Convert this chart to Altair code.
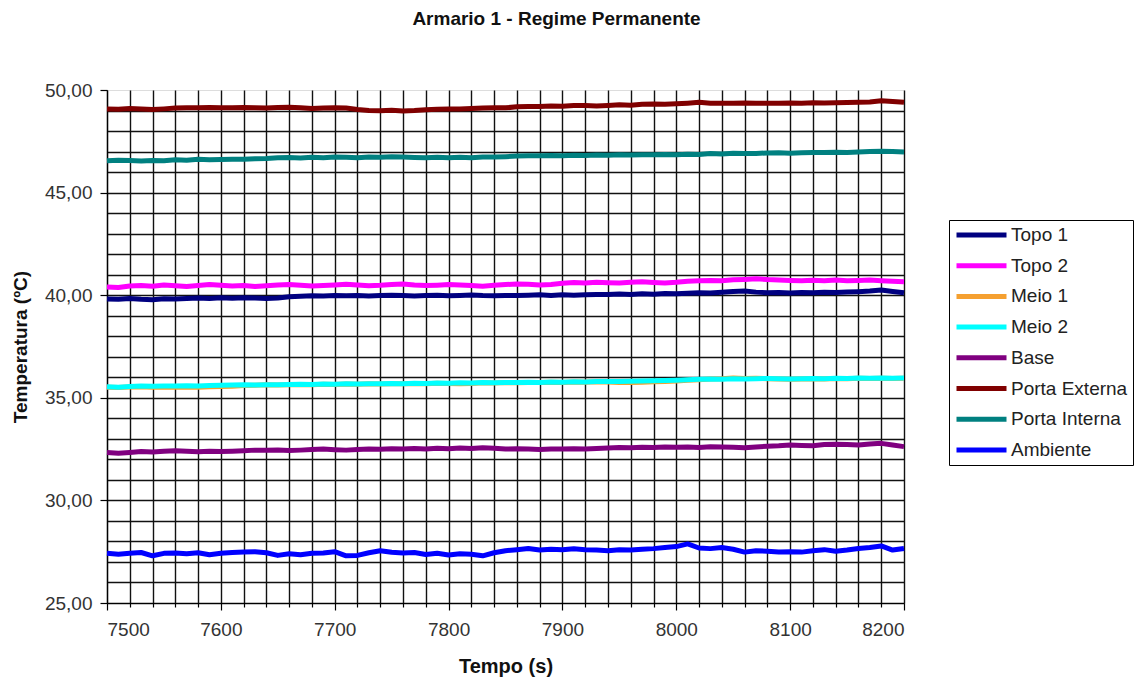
import altair as alt
import pandas as pd

tempo = list(range(7500, 8201, 10))

serie_nomes = ["Topo 1", "Topo 2", "Meio 1", "Meio 2", "Base",
               "Porta Externa", "Porta Interna", "Ambiente"]
serie_cores = ["#000080", "#FF00FF", "#F5A030", "#00FFFF", "#800080",
               "#800000", "#008080", "#0000FF"]

topo1 = [39.82, 39.80, 39.84, 39.80, 39.78, 39.83, 39.81, 39.84, 39.86, 39.84, 39.87,
         39.85, 39.88, 39.86, 39.84, 39.86, 39.92, 39.95, 39.97, 39.96, 39.98,
         39.97, 39.99, 39.96, 39.98, 40.00, 39.98, 39.96, 39.98, 40.00, 39.97,
         39.99, 40.01, 39.98, 39.97, 39.99, 39.98, 40.00, 40.02, 39.99, 40.02,
         40.00, 40.02, 40.04, 40.03, 40.06, 40.04, 40.07, 40.05, 40.08, 40.07,
         40.10, 40.12, 40.11, 40.14, 40.18, 40.20, 40.15, 40.12, 40.13, 40.11,
         40.13, 40.12, 40.14, 40.13, 40.15, 40.17, 40.20, 40.25, 40.18, 40.12]

topo2 = [40.40, 40.38, 40.45, 40.47, 40.44, 40.50, 40.46, 40.42, 40.47, 40.52, 40.48,
         40.45, 40.47, 40.42, 40.46, 40.50, 40.52, 40.48, 40.45, 40.47, 40.50,
         40.53, 40.50, 40.46, 40.48, 40.52, 40.55, 40.50, 40.47, 40.49, 40.52,
         40.50, 40.47, 40.44, 40.48, 40.52, 40.55, 40.53, 40.50, 40.52, 40.58,
         40.62, 40.60, 40.63, 40.61, 40.60, 40.63, 40.65, 40.62, 40.60, 40.63,
         40.68, 40.70, 40.72, 40.70, 40.75, 40.77, 40.80, 40.76, 40.74, 40.72,
         40.70, 40.73, 40.71, 40.74, 40.70, 40.72, 40.74, 40.71, 40.68, 40.66]

meio1 = [35.52, 35.50, 35.53, 35.54, 35.52, 35.51, 35.52, 35.53, 35.52, 35.54, 35.55,
         35.56, 35.60, 35.61, 35.63, 35.62, 35.64, 35.65, 35.64, 35.66, 35.65,
         35.67, 35.66, 35.68, 35.67, 35.69, 35.68, 35.70, 35.69, 35.71, 35.70,
         35.68, 35.70, 35.73, 35.72, 35.74, 35.73, 35.75, 35.74, 35.76, 35.75,
         35.77, 35.76, 35.78, 35.77, 35.75, 35.74, 35.76, 35.78, 35.80, 35.82,
         35.85, 35.88, 35.92, 35.93, 35.96, 35.94, 35.95, 35.93, 35.92, 35.91,
         35.92, 35.93, 35.92, 35.94, 35.93, 35.95, 35.94, 35.95, 35.94, 35.95]

meio2 = [35.54, 35.52, 35.55, 35.57, 35.56, 35.58, 35.57, 35.59, 35.58, 35.60, 35.61,
         35.62, 35.63, 35.62, 35.64, 35.63, 35.65, 35.66, 35.65, 35.67, 35.66,
         35.68, 35.67, 35.69, 35.68, 35.70, 35.69, 35.71, 35.70, 35.72, 35.71,
         35.73, 35.72, 35.74, 35.73, 35.75, 35.74, 35.76, 35.75, 35.77, 35.76,
         35.78, 35.77, 35.79, 35.80, 35.79, 35.81, 35.82, 35.83, 35.84, 35.86,
         35.88, 35.90, 35.92, 35.91, 35.93, 35.92, 35.93, 35.94, 35.93, 35.92,
         35.93, 35.94, 35.93, 35.95, 35.94, 35.96, 35.95, 35.96, 35.95, 35.96]

base = [32.33, 32.30, 32.34, 32.38, 32.36, 32.40, 32.42, 32.39, 32.37, 32.40, 32.38,
        32.40, 32.42, 32.45, 32.44, 32.46, 32.43, 32.45, 32.48, 32.50, 32.47,
        32.45, 32.48, 32.50, 32.49, 32.52, 32.50, 32.53, 32.51, 32.54, 32.52,
        32.55, 32.53, 32.57, 32.54, 32.50, 32.52, 32.50, 32.48, 32.51, 32.50,
        32.52, 32.51, 32.53, 32.55, 32.58, 32.57, 32.59, 32.58, 32.60, 32.59,
        32.60, 32.58, 32.61, 32.60, 32.59, 32.57, 32.60, 32.64, 32.66, 32.70,
        32.68, 32.66, 32.72, 32.74, 32.72, 32.70, 32.75, 32.78, 32.70, 32.62]

porta_externa = [49.08, 49.06, 49.10, 49.07, 49.05, 49.08, 49.12, 49.14, 49.13, 49.15, 49.14,
                 49.13, 49.15, 49.14, 49.12, 49.15, 49.16, 49.13, 49.10, 49.12, 49.14,
                 49.12, 49.05, 49.00, 48.99, 49.01, 48.98, 49.00, 49.04, 49.06, 49.08,
                 49.07, 49.10, 49.12, 49.14, 49.13, 49.18, 49.20, 49.19, 49.22, 49.21,
                 49.25, 49.24, 49.22, 49.25, 49.28, 49.26, 49.30, 49.32, 49.31, 49.33,
                 49.36, 49.40, 49.35, 49.36, 49.35, 49.37, 49.36, 49.36, 49.35, 49.37,
                 49.36, 49.38, 49.37, 49.38, 49.39, 49.40, 49.42, 49.48, 49.44, 49.40]

porta_interna = [46.55, 46.58, 46.56, 46.54, 46.57, 46.55, 46.60, 46.58, 46.62, 46.60, 46.61,
                 46.62, 46.63, 46.65, 46.66, 46.70, 46.71, 46.69, 46.72, 46.70, 46.73,
                 46.72, 46.70, 46.74, 46.72, 46.75, 46.73, 46.71, 46.70, 46.72, 46.70,
                 46.72, 46.70, 46.74, 46.73, 46.75, 46.78, 46.80, 46.79, 46.81, 46.80,
                 46.82, 46.81, 46.83, 46.82, 46.84, 46.83, 46.85, 46.84, 46.86, 46.85,
                 46.87, 46.86, 46.90, 46.88, 46.92, 46.90, 46.91, 46.93, 46.94, 46.92,
                 46.94, 46.95, 46.96, 46.97, 46.96, 46.98, 47.00, 47.02, 47.00, 46.98]

ambiente = [27.42, 27.38, 27.43, 27.46, 27.30, 27.42, 27.44, 27.40, 27.45, 27.35, 27.42,
            27.46, 27.48, 27.50, 27.45, 27.32, 27.40, 27.35, 27.42, 27.44, 27.50,
            27.30, 27.32, 27.45, 27.55, 27.47, 27.44, 27.46, 27.36, 27.42, 27.34,
            27.40, 27.38, 27.30, 27.45, 27.55, 27.60, 27.66, 27.58, 27.62, 27.60,
            27.64, 27.60, 27.58, 27.55, 27.60, 27.58, 27.62, 27.65, 27.70, 27.75,
            27.88, 27.68, 27.65, 27.70, 27.62, 27.48, 27.55, 27.52, 27.48, 27.50,
            27.48, 27.55, 27.60, 27.52, 27.58, 27.66, 27.70, 27.78, 27.58, 27.66]

x_ticks = list(range(7500, 8201, 20))
y_ticks = list(range(25, 51, 1))

series = [topo1, topo2, meio1, meio2, base, porta_externa, porta_interna, ambiente]
rows = []
for nome, vals in zip(serie_nomes, series):
    for t, v in zip(tempo, vals):
        rows.append({"Tempo": t, "Temperatura": v, "Serie": nome})
df = pd.DataFrame(rows)

FONT = "Liberation Sans"

chart = alt.Chart(df).mark_line(strokeWidth=5, strokeJoin="round", strokeCap="butt").encode(
    x=alt.X("Tempo:Q",
            scale=alt.Scale(domain=[7500, 8200], nice=False, zero=False),
            axis=alt.Axis(values=x_ticks, grid=True, gridColor="#111111", gridWidth=1.4,
                          domainColor="#000000", domainWidth=1.2,
                          tickColor="#000000", tickWidth=1.2,
                          tickSize={"condition": {"test": "datum.value % 100 === 0", "value": 7}, "value": 4},
                          labelExpr="datum.value % 100 === 0 ? format(datum.value, 'd') : ''",
                          labelOverlap=False, labelFont=FONT, labelFontSize=19,
                          labelColor="#333333", labelPadding=10,
                          title="Tempo (s)", titleFont=FONT, titleFontSize=20,
                          titleFontWeight="bold", titleColor="#111111", titlePadding=17)),
    y=alt.Y("Temperatura:Q",
            scale=alt.Scale(domain=[25, 50], nice=False, zero=False),
            axis=alt.Axis(values=y_ticks, grid=True, gridColor="#111111", gridWidth=1.4,
                          gridOpacity={"condition": {"test": "datum.value === 50", "value": 0}, "value": 1},
                          domainColor="#000000", domainWidth=1.2,
                          tickColor="#000000", tickWidth=1.2,
                          tickSize={"condition": {"test": "datum.value % 5 === 0", "value": 7}, "value": 0},
                          labelExpr="datum.value % 5 === 0 ? replace(format(datum.value, '.2f'), '.', ',') : ''",
                          labelOverlap=False, labelFont=FONT, labelFontSize=19,
                          labelColor="#333333", labelPadding=8,
                          title="Temperatura (ºC)", titleFont=FONT, titleFontSize=19,
                          titleFontWeight="bold", titleColor="#111111", titlePadding=14)),
    color=alt.Color("Serie:N",
                    scale=alt.Scale(domain=serie_nomes, range=serie_cores),
                    legend=alt.Legend(title=None, orient="none", legendX=842, legendY=130,
                                      strokeColor="#000000", fillColor="#FFFFFF", padding=5,
                                      symbolType="stroke", symbolStrokeWidth=5, symbolSize=2500,
                                      clipHeight=20,
                                      labelFont=FONT, labelFontSize=19, labelColor="#222222",
                                      labelOffset=2, rowPadding=10.7, cornerRadius=0)),
).properties(
    width=797,
    height=513,
    padding={"left": 107, "top": 90, "right": 233, "bottom": 74},
    autosize=alt.AutoSizeParams(type="none"),
    title=alt.TitleParams("Armario 1 - Regime Permanente", font=FONT, fontSize=19,
                          fontWeight="bold", color="#111111", anchor="middle",
                          dx=51, offset=52),
).configure_view(
    fill="#FFFFFC", stroke=None
).configure(background="#FFFFFF")

chart.save("out.html", embed_options={"renderer": "svg", "actions": False})
